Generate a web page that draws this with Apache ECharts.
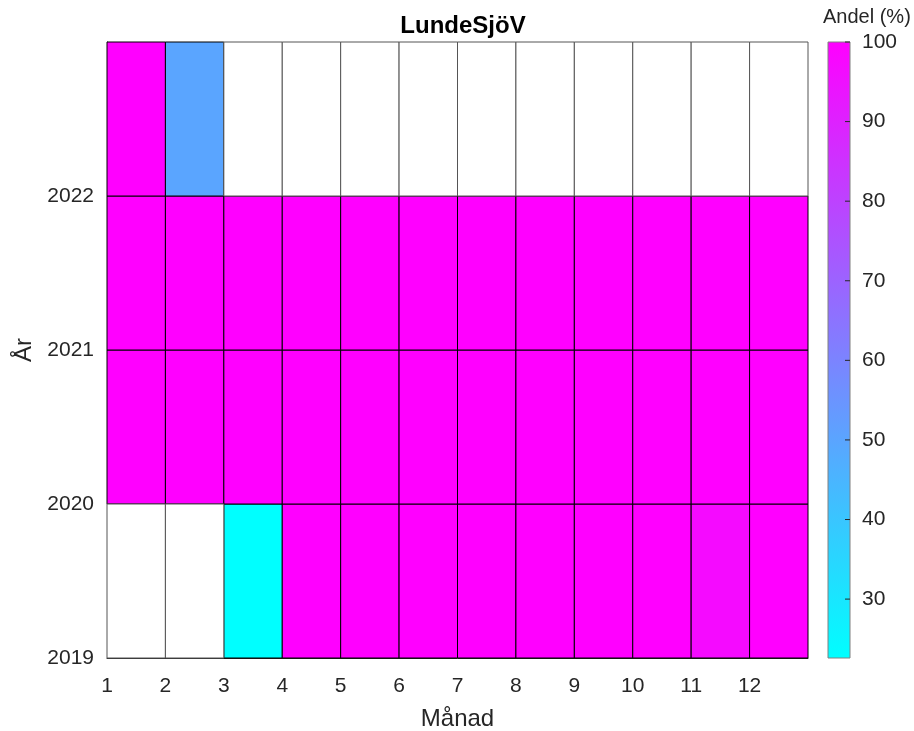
<!DOCTYPE html>
<html>
<head>
<meta charset="utf-8">
<script src="https://cdn.jsdelivr.net/npm/echarts@6/dist/echarts.min.js"></script>
<style>
  html, body { margin: 0; padding: 0; background: #fff; }
  #chart { width: 914px; height: 731px; }
</style>
</head>
<body>
<div id="chart"></div>
<script>
// Monthly share (%) per year; null = no data for that month
const months = [1, 2, 3, 4, 5, 6, 7, 8, 9, 10, 11, 12];
const years = [2019, 2020, 2021, 2022];
const share2019 = [null, null, 22.6, 100, 100, 100, 100, 100, 100, 100, 97, 100];
const share2020 = [100, 100, 100, 100, 100, 100, 100, 100, 100, 100, 100, 100];
const share2021 = [100, 100, 100, 100, 100, 100, 100, 100, 100, 100, 100, 100];
const share2022 = [100, 50, null, null, null, null, null, null, null, null, null, null];
const shareByYear = [share2019, share2020, share2021, share2022];
const colorbarTicks = [30, 40, 50, 60, 70, 80, 90, 100];
const cbMin = 22.6;
const cbMax = 100;

const filled = [];
const empty = [];
years.forEach((yr, yi) => {
  months.forEach((m, mi) => {
    const v = shareByYear[yi][mi];
    if (v === null) empty.push([m, yr]);
    else filled.push([m, yr, v]);
  });
});

const FONT = '"Liberation Sans", Arial, sans-serif';
const TXT = '#262626';

function cellRect(params, api, fill, stroke) {
  const x = api.value(0), y = api.value(1);
  const p0 = api.coord([x, y + 1]);
  const p1 = api.coord([x + 1, y]);
  return {
    type: 'rect',
    shape: { x: p0[0], y: p0[1], width: p1[0] - p0[0], height: p1[1] - p0[1] },
    style: { fill: fill, stroke: stroke, lineWidth: 1 }
  };
}

const chart = echarts.init(document.getElementById('chart'), null, { renderer: 'canvas' });
chart.setOption({
  animation: false,
  backgroundColor: '#fff',
  title: {
    text: 'LundeSjöV',
    left: 458, top: 9, textAlign: 'center',
    textStyle: { fontFamily: FONT, fontSize: 24, fontWeight: 'bold', color: '#000' }
  },
  graphic: [{
    type: 'text', left: 823, top: 7,
    style: { text: 'Andel (%)', font: '20px ' + FONT, fill: TXT }
  }],
  grid: [
    { left: 107, top: 42, width: 701, height: 616, show: false, outerBoundsMode: 'none' },
    { left: 828, top: 42, width: 22, height: 616, show: false, outerBoundsMode: 'none' }
  ],
  xAxis: [{
    gridIndex: 0, type: 'value', min: 1, max: 13, interval: 1,
    name: 'Månad', nameLocation: 'middle', nameGap: 49,
    nameTextStyle: { fontFamily: FONT, fontSize: 24, color: TXT },
    axisLine: { show: true, lineStyle: { color: TXT, width: 1 } },
    axisTick: { show: false },
    splitLine: { show: false },
    axisLabel: {
      fontFamily: FONT, fontSize: 21, color: TXT, margin: 18,
      formatter: v => (v >= 13 ? '' : String(v))
    }
  }, {
    gridIndex: 1, type: 'value', min: 0, max: 1, show: false
  }],
  yAxis: [{
    gridIndex: 0, type: 'value', min: 2019, max: 2023, interval: 1,
    name: 'År', nameLocation: 'middle', nameGap: 68,
    nameTextStyle: { fontFamily: FONT, fontSize: 24, color: TXT },
    axisLine: { show: true, lineStyle: { color: TXT, width: 1 } },
    axisTick: { show: false },
    splitLine: { show: false },
    axisLabel: {
      fontFamily: FONT, fontSize: 21, color: TXT, margin: 13,
      padding: [10, 0, 0, 0],
      formatter: v => (v >= 2023 ? '' : String(v))
    }
  }, {
    gridIndex: 1, type: 'value', min: cbMin, max: cbMax, position: 'right',
    axisLine: { show: false },
    splitLine: { show: false },
    axisTick: { show: false },
    axisLabel: {
      fontFamily: FONT, fontSize: 21, color: TXT, margin: 12,
      customValues: colorbarTicks
    }
  }],
  visualMap: {
    type: 'continuous', show: false, seriesIndex: 0, dimension: 2,
    min: cbMin, max: cbMax,
    inRange: { color: ['#00ffff', '#ff00ff'] }
  },
  series: [{
    type: 'custom', xAxisIndex: 0, yAxisIndex: 0,
    data: filled,
    renderItem: (params, api) => cellRect(params, api, api.visual('color'), '#000')
  }, {
    type: 'custom', xAxisIndex: 0, yAxisIndex: 0,
    data: empty,
    renderItem: (params, api) => cellRect(params, api, '#fff', '#555')
  }, {
    // colorbar strip with inward ticks on its right edge
    type: 'custom', xAxisIndex: 1, yAxisIndex: 1, z: 1,
    data: [[0, cbMin, cbMax]],
    renderItem: (params, api) => {
      const p0 = api.coord([0, api.value(2)]);
      const p1 = api.coord([1, api.value(1)]);
      const children = [{
        type: 'rect',
        shape: { x: p0[0], y: p0[1], width: p1[0] - p0[0], height: p1[1] - p0[1] },
        style: {
          fill: new echarts.graphic.LinearGradient(0, 0, 0, 1, [
            { offset: 0, color: '#ff00ff' },
            { offset: 1, color: '#00ffff' }
          ]),
          stroke: '#808080', lineWidth: 1
        }
      }];
      colorbarTicks.forEach(t => {
        const p = api.coord([1, t]);
        children.push({
          type: 'line',
          shape: { x1: p[0] - 5, y1: p[1], x2: p[0], y2: p[1] },
          style: { stroke: TXT, lineWidth: 1 }
        });
      });
      return { type: 'group', children: children };
    }
  }]
});
</script>
</body>
</html>
